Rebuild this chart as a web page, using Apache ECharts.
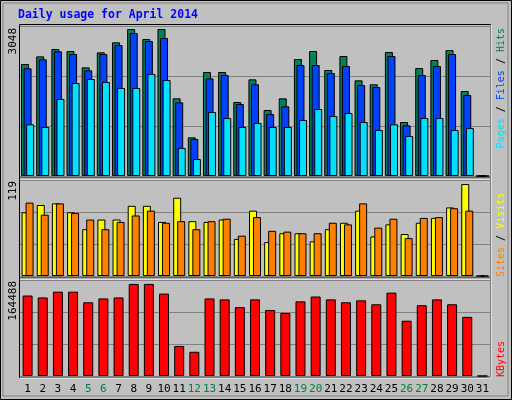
<!DOCTYPE html>
<html><head><meta charset="utf-8">
<script src="https://cdn.jsdelivr.net/npm/echarts@6/dist/echarts.min.js"></script>
<style>html,body{margin:0;padding:0;background:#c0c0c0}#c{width:512px;height:400px}</style>
</head><body><div id="c"></div>
<script>
const days = Array.from({length:31},(_,i)=>String(i+1));
const weekend = ['5','6','12','13','19','20','26','27'];
const hits  = [2276,2431,2580,2540,2208,2513,2716,2987,2784,2987,1578,786,2113,2113,1504,1964,1341,1578,2377,2540,2154,2438,1944,1863,2520,1097,2194,2357,2560,1727,0];
const files = [2188,2371,2533,2479,2147,2479,2662,2906,2743,2804,1497,752,1984,2052,1463,1863,1260,1416,2255,2255,2093,2235,1849,1808,2438,1029,2052,2235,2479,1646,0];
const pages = [1050,996,1565,1890,1971,1910,1788,1788,2073,1951,569,345,1300,1178,996,1077,996,996,1138,1361,1219,1280,1097,935,1050,813,1178,1178,935,975,0];
const visits= [79,88,90,79,58,70,70,87,87,67,97,68,67,70,46,81,42,53,53,43,58,66,81,49,64,52,66,72,85,114,0];
const sites = [91,76,90,78,70,58,67,75,81,66,68,58,68,71,50,73,56,55,53,53,66,64,90,60,71,47,72,73,84,81,0];
const kbytes= [137900,134600,144500,144500,126300,132900,134600,157800,157800,141200,51500,41500,132900,131300,118000,131300,113000,108000,127900,136200,131300,126300,129600,122900,142900,94700,121300,131300,122900,101300,0];
const maxTop=3048, maxMid=119, maxBot=164488;

const L=20, R=22;
const grids=[{left:L,right:R,top:26,height:150},{left:L,right:R,top:180,height:96},{left:L,right:R,top:280,height:96}];
const mono='DejaVu Sans Mono';
function xa(i,show){return {type:'category',gridIndex:i,data:days,axisLine:{show:false},axisTick:{show:false},
 axisLabel:{show:show,fontFamily:mono,fontSize:11,margin:8,color:(v)=>weekend.includes(v)?'#008040':'#000',interval:0}};}
function ya(i,m){return {type:'value',gridIndex:i,min:0,max:m,interval:m/3,axisLabel:{show:false},axisLine:{show:false},axisTick:{show:false},splitLine:{lineStyle:{color:'#808080',width:1}}};}
function bar(d,c,xi,w,gap){return {type:'bar',data:d,xAxisIndex:xi,yAxisIndex:xi,barWidth:w,barGap:gap,itemStyle:{color:c,borderColor:'#000',borderWidth:1},silent:true,animation:false};}
function rot(txt,x,y,align,rich,size){return {type:'text',x:x,y:y,rotation:Math.PI/2,style:{text:txt,fontFamily:mono,fontSize:size||11,textAlign:align,textVerticalAlign:'middle',fill:'#000',rich:rich}};}
const c=echarts.init(document.getElementById('c'));
c.setOption({backgroundColor:'#c0c0c0',animation:false,grid:grids,
 xAxis:[xa(0,false),xa(1,false),xa(2,true)],
 yAxis:[ya(0,maxTop),ya(1,maxMid),ya(2,maxBot)],
 series:[bar(hits,'#00805c',0,8,'-68%'),bar(files,'#0040ff',0,8,'-68%'),bar(pages,'#00e0ff',0,8,'-68%'),
  bar(visits,'#ffff00',1,8,'-50%'),bar(sites,'#ff8000',1,8,'-50%'),
  bar(kbytes,'#ff0000',2,10,'0%')],
 graphic:[
  {type:'rect',shape:{x:0.5,y:0.5,width:511,height:399},style:{fill:'none',stroke:'#000'}},
  {type:'rect',shape:{x:3,y:3,width:505,height:393},style:{fill:'none',stroke:'#808080'}},
  {type:'rect',shape:{x:19.5,y:24.5,width:471,height:353},style:{fill:'none',stroke:'#000'}},
  {type:'line',shape:{x1:20,y1:178,x2:490,y2:178},style:{stroke:'#000'}},
  {type:'line',shape:{x1:20,y1:179,x2:490,y2:179},style:{stroke:'#fff'}},
  {type:'line',shape:{x1:20,y1:278,x2:490,y2:278},style:{stroke:'#000'}},
  {type:'line',shape:{x1:20,y1:279,x2:490,y2:279},style:{stroke:'#fff'}},
  {type:'line',shape:{x1:491,y1:25,x2:491,y2:378},style:{stroke:'#fff'}},
  {type:'line',shape:{x1:20,y1:378,x2:491,y2:378},style:{stroke:'#fff'}},
  {type:'text',x:18,y:15,style:{text:'Daily usage for April 2014',fontFamily:mono,fontSize:11.5,fontWeight:'bold',fill:'#0000ff',textVerticalAlign:'middle'}},
  rot('3048',13,28,'right',null,11),
  rot('119',13,181,'right',null,11),
  rot('164488',13,281,'right',null,11),
  rot('{p|Pages} / {f|Files} / {h|Hits}',501,28,'right',{p:{fill:'#00e0ff',fontFamily:mono,fontSize:10},f:{fill:'#0040ff',fontFamily:mono,fontSize:10},h:{fill:'#00805c',fontFamily:mono,fontSize:10}},10),
  rot('{s|Sites} / {v|Visits}',501,277,'left',{s:{fill:'#ff8000',fontFamily:mono,fontSize:10},v:{fill:'#ffff00',fontFamily:mono,fontSize:10}},10),
  rot('{k|KBytes}',501,377,'left',{k:{fill:'#ff0000',fontFamily:mono,fontSize:10}},10)
 ]});
</script></body></html>
